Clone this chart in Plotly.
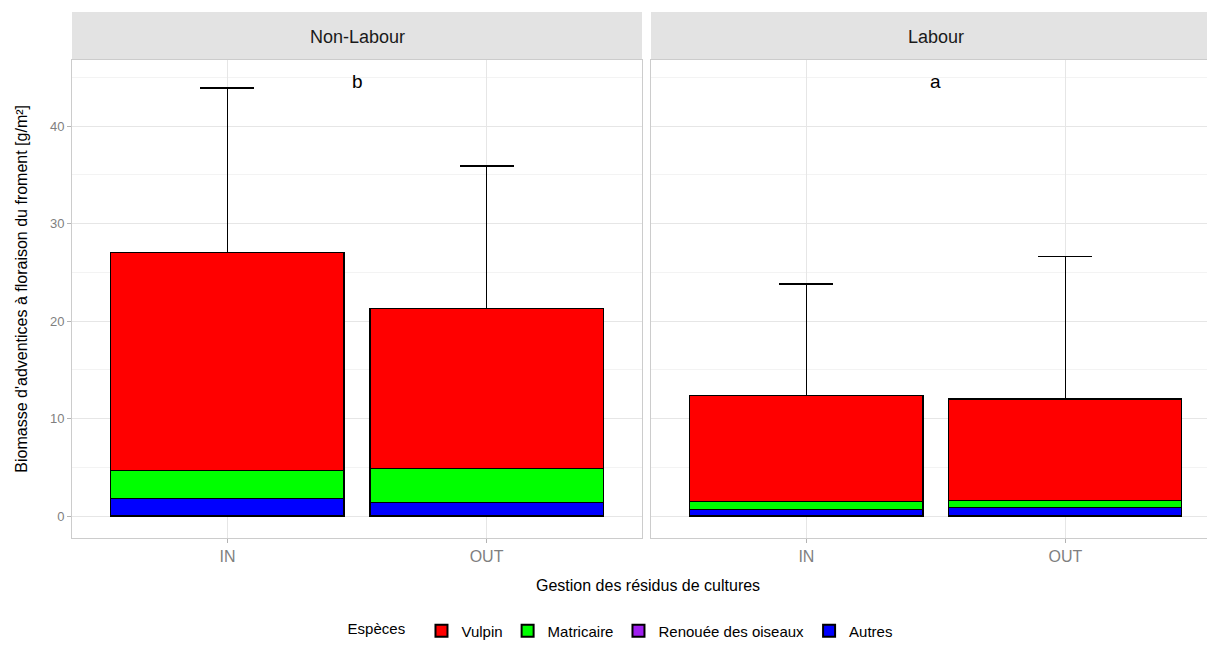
import plotly.graph_objects as go

categories = ["IN", "OUT"]
panels = ["Non-Labour", "Labour"]
panel_letters = ["b", "a"]

# stacked values per panel [IN, OUT]
autres = {"Non-Labour": [1.8, 1.4], "Labour": [0.7, 0.9]}
renouee = {"Non-Labour": [0.0, 0.0], "Labour": [0.0, 0.0]}
matricaire = {"Non-Labour": [2.9, 3.5], "Labour": [0.8, 0.7]}
vulpin = {"Non-Labour": [22.3, 16.4], "Labour": [10.85, 10.4]}
err_top = {"Non-Labour": [43.9, 35.9], "Labour": [23.8, 26.6]}

species = ["Autres", "Renouée des oiseaux", "Matricaire", "Vulpin"]
series = {"Autres": autres, "Renouée des oiseaux": renouee, "Matricaire": matricaire, "Vulpin": vulpin}
colors = {"Vulpin": "#FF0000", "Matricaire": "#00FF00", "Renouée des oiseaux": "#A020F0", "Autres": "#0000FF"}
legend_rank = {"Vulpin": 1, "Matricaire": 2, "Renouée des oiseaux": 3, "Autres": 4}

W, H = 1207, 648
FONT = "Liberation Sans, Arial, sans-serif"

fig = go.Figure()
axes = [("x", "y"), ("x2", "y2")]
for pi, p in enumerate(panels):
    xa, ya = axes[pi]
    totals = [sum(series[s][p][i] for s in species) for i in range(2)]
    for s in species:
        kw = {}
        if s == "Vulpin":
            kw["error_y"] = dict(type="data", symmetric=False,
                                 array=[err_top[p][i] - totals[i] for i in range(2)],
                                 arrayminus=[0, 0], color="black", thickness=1.2, width=27)
        fig.add_trace(go.Bar(
            x=categories, y=series[s][p], name=s, xaxis=xa, yaxis=ya,
            marker=dict(color=colors[s], line=dict(color="black", width=1.2)),
            showlegend=(pi == 0), legendrank=legend_rank[s], legendgroup=s, **kw))
    fig.add_annotation(x=0.5, y=44.6, xref=xa, yref=ya, text=panel_letters[pi],
                       xanchor="center", yanchor="middle",
                       showarrow=False, font=dict(size=19, color="black", family=FONT))

ydom = [(H - 540) / H, (H - 60) / H]
x1dom = [72 / W, 642 / W]
x2dom = [651 / W, 1.0]

ycommon = dict(range=[-2.2, 46.8], domain=ydom, tickvals=[0, 10, 20, 30, 40],
               showgrid=True, gridcolor="#e6e6e6", gridwidth=1, zeroline=False,
               minor=dict(tickvals=[5, 15, 25, 35, 45], showgrid=True, gridcolor="#f3f3f3", gridwidth=1),
               tickfont=dict(size=13, color="#7f7f7f", family=FONT),
               showline=True, linecolor="#cccccc", mirror=True, linewidth=1)
xcommon = dict(type="category", showgrid=True, gridcolor="#e6e6e6", gridwidth=1,
               tickfont=dict(size=16, color="#7f7f7f", family=FONT),
               ticks="outside", ticklen=4, tickcolor="#b3b3b3",
               showline=True, linecolor="#cccccc", mirror=True, linewidth=1)

fig.update_layout(
    width=W, height=H, barmode="stack", bargap=0.1,
    plot_bgcolor="white", paper_bgcolor="white",
    margin=dict(l=0, r=0, t=0, b=0),
    font=dict(family=FONT),
    xaxis=dict(domain=x1dom, range=[-0.6, 1.6], anchor="y", **xcommon),
    xaxis2=dict(domain=x2dom, range=[-0.6, 1.547], anchor="y2", **xcommon),
    yaxis=dict(anchor="x", ticks="outside", ticklen=4, tickcolor="#b3b3b3", **ycommon),
    yaxis2=dict(anchor="x2", showticklabels=False, ticks="", **ycommon),
    legend=dict(orientation="h", x=0.515, xanchor="center", y=14 / H, yanchor="middle",
                font=dict(size=15, color="black", family=FONT),
                title=dict(text="Espèces  ", font=dict(size=15, color="black", family=FONT)),
                itemsizing="constant", traceorder="normal"),
)

# facet strips
for dom, label in [(x1dom, panels[0]), (x2dom, panels[1])]:
    fig.add_shape(type="rect", xref="paper", yref="paper",
                  x0=dom[0], x1=dom[1], y0=(H - 60) / H, y1=(H - 12) / H,
                  fillcolor="#e3e3e3", line=dict(width=0), layer="below")
    cx = (dom[0] + dom[1]) / 2 if dom[1] < 1 else (dom[0] + 1221 / W) / 2
    fig.add_annotation(xref="paper", yref="paper", x=cx, y=(H - 37) / H,
                       xanchor="center", yanchor="middle",
                       text=label, showarrow=False,
                       font=dict(size=18, color="#1a1a1a", family=FONT))

fig.add_annotation(xref="paper", yref="paper", x=648 / W, y=(H - 588) / H,
                   xanchor="center", yanchor="middle",
                   text="Gestion des résidus de cultures", showarrow=False,
                   font=dict(size=16, color="black", family=FONT))
fig.add_annotation(xref="paper", yref="paper", x=22 / W, y=(H - 290) / H,
                   xanchor="center", yanchor="middle",
                   text="Biomasse d'adventices à floraison du froment [g/m²]", textangle=-90,
                   showarrow=False, font=dict(size=16, color="black", family=FONT))

fig.write_html("out.html")
